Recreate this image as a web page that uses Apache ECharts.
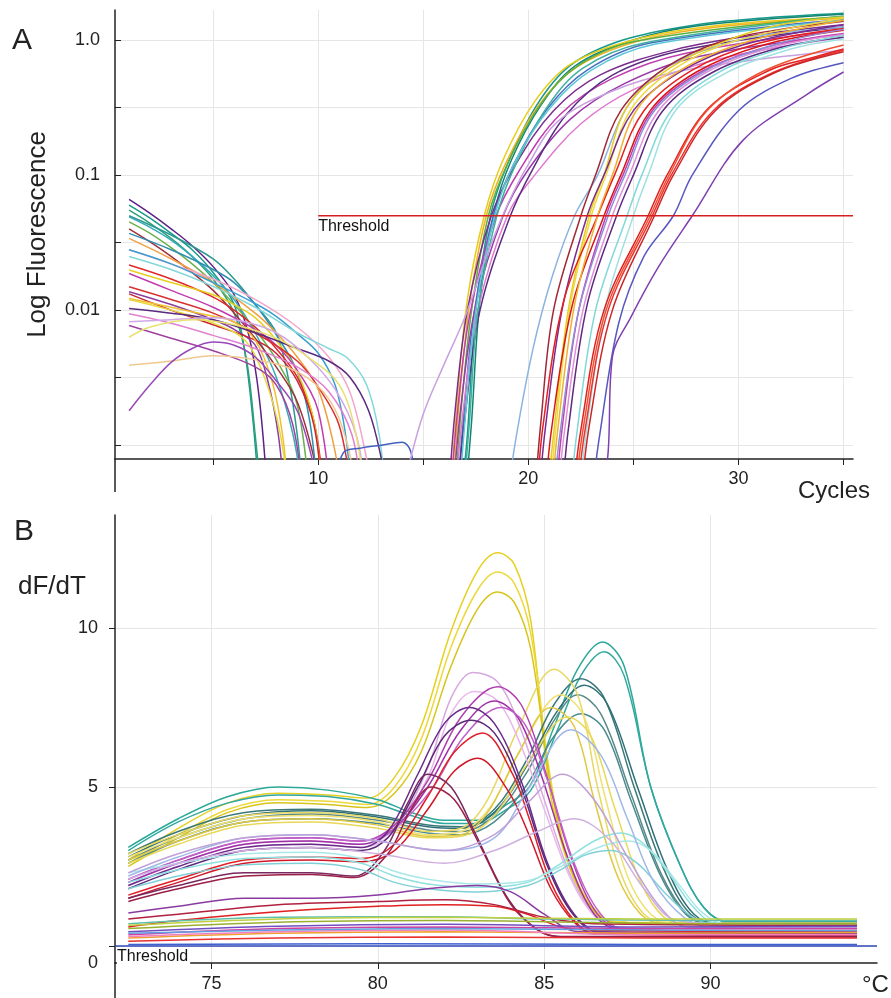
<!DOCTYPE html>
<html>
<head>
<meta charset="utf-8">
<script src="https://cdn.jsdelivr.net/npm/echarts@6/dist/echarts.min.js"></script>
<style>
html, body { margin: 0; padding: 0; background: #fff; }
#main { width: 891px; height: 998px; }
</style>
</head>
<body>
<div id="main"></div>
<script>
// ---------- Panel A : amplification (cycle, fluorescence) ----------
var cycleLabels = [10, 20, 30];
var decadeLabels = {'0': '1.0', '-1': '0.1', '-2': '0.01'};
var thresholdA = [[10, 0.05], [35.45, 0.05]];

// early baseline parts of the wells, falling off below the axis
var baselineCurves = [
  [[1,0.066],[2,0.052],[3,0.04],[4,0.03],[5,0.021],[6,0.013],[6.7,0.0065],[7.2,0.0022],[7.6,0.0004]],
  [[1,0.06],[2,0.048],[3,0.037],[4,0.028],[5,0.019],[6,0.011],[6.5,0.005],[6.9,0.0015],[7.2,0.0004]],
  [[1,0.055],[2,0.044],[3,0.034],[4,0.025],[5,0.017],[6,0.0095],[6.6,0.0042],[7.0,0.0012],[7.3,0.0004]],
  [[1,0.05],[3,0.036],[5,0.024],[6,0.017],[7,0.011],[8,0.0068],[8.6,0.003],[9.0,0.0012],[9.3,0.0004]],
  [[1,0.049],[2,0.041],[3,0.033],[4,0.025],[5,0.018],[6,0.012],[7,0.0068],[8,0.0032],[8.8,0.0012],[9.3,0.0004]],
  [[1,0.045],[2,0.037],[3,0.029],[4,0.022],[5,0.016],[6,0.011],[7,0.0072],[8,0.0043],[9,0.002],[9.6,0.0004]],
  [[1,0.04],[2,0.032],[3,0.025],[4,0.019],[5,0.014],[6,0.0095],[7,0.0062],[8,0.0038],[9,0.0021],[9.8,0.0008],[10.1,0.0004]],
  [[1,0.037],[3,0.028],[5,0.02],[6,0.016],[7,0.011],[8,0.0066],[9,0.0035],[9.6,0.0015],[10,0.0004]],
  [[1,0.034],[3,0.024],[5,0.016],[7,0.0095],[8,0.0068],[9,0.0045],[10,0.0026],[10.8,0.0009],[11.1,0.0004]],
  [[1,0.028],[3,0.022],[5,0.017],[7,0.012],[9,0.0075],[10.5,0.0045],[11.5,0.0025],[12.3,0.0008],[12.6,0.0004]],
  [[1,0.028],[3,0.022],[5,0.016],[7,0.0112],[8,0.009],[9,0.0067],[10,0.0048],[10.8,0.0028],[11.3,0.0012],[11.6,0.0004]],
  [[1,0.025],[3,0.02],[5,0.015],[7,0.0105],[9,0.0068],[10.5,0.0052],[11.4,0.0044],[12.3,0.0028],[12.9,0.0012],[13.2,0.0004]],
  [[1,0.0216],[3,0.017],[5,0.0125],[6,0.01],[7,0.0075],[8,0.0052],[9,0.0032],[9.8,0.0015],[10.3,0.0004]],
  [[1,0.0198],[3,0.016],[5,0.013],[6,0.011],[7,0.0088],[8,0.006],[9,0.0035],[9.8,0.0015],[10.2,0.0004]],
  [[1,0.0187],[3,0.014],[5,0.0105],[7,0.0072],[8,0.0055],[9,0.0036],[10,0.0018],[10.6,0.0004]],
  [[1,0.0149],[3,0.012],[5,0.0095],[7,0.0068],[9,0.0042],[10,0.0027],[11,0.0014],[11.6,0.0004]],
  [[1,0.0137],[3,0.011],[5,0.0085],[6,0.0072],[7,0.0055],[7.6,0.003],[8.1,0.0012],[8.4,0.0004]],
  [[1,0.0132],[3,0.01],[5,0.0078],[7,0.006],[8,0.0048],[9,0.003],[9.8,0.0014],[10.2,0.0004]],
  [[1,0.0122],[3,0.0105],[5,0.009],[6,0.0082],[7,0.006],[7.8,0.003],[8.3,0.0012],[8.6,0.0004]],
  [[1,0.012],[3,0.01],[5,0.008],[6.5,0.006],[7.5,0.003],[8.2,0.0012],[8.6,0.0004]],
  [[1,0.0103],[3,0.0095],[5,0.0085],[7,0.0068],[9,0.0052],[10.5,0.0042],[11.5,0.0032],[12.4,0.0018],[13.0,0.0008],[13.3,0.0004]],
  [[1,0.0094],[3,0.008],[5,0.0065],[7,0.0052],[9,0.0038],[10.5,0.0025],[11.6,0.0012],[12.1,0.0004]],
  [[1,0.0082],[3,0.0085],[5,0.0088],[6.5,0.0082],[8,0.0068],[9.5,0.0045],[10.8,0.0026],[11.8,0.0012],[12.3,0.0004]],
  [[1,0.0077],[3,0.0062],[5,0.005],[7,0.0038],[8,0.0028],[8.8,0.0014],[9.3,0.0004]],
  [[1,0.0063],[2,0.0075],[4,0.0085],[6,0.0078],[8,0.0062],[9.5,0.0045],[11,0.0028],[11.8,0.0012],[12.2,0.0004]],
  [[1,0.0039],[3,0.0042],[5,0.0046],[7,0.0043],[9,0.0035],[10.5,0.0022],[11.4,0.001],[11.8,0.0004]],
  [[1,0.0018],[2,0.0028],[3,0.0041],[4,0.0052],[5,0.0058],[6,0.0055],[7,0.0045],[8,0.003],[9,0.0018],[9.7,0.0008],[10,0.0004]],
  [[10.6,0.0004],[11.2,0.00088],[12,0.00095],[13,0.001],[14,0.00105],[14.4,0.0009],[14.8,0.0004]]
];
var baselineColors = ['#5e1f86','#17998a','#2f9f7a','#2a9a90','#35aab8','#6ab04c','#a0303a','#2f8fb0',
  '#f0a040','#f2a6cc','#3aa0d0','#82d8d8','#e02828','#e6cf22','#c03cb0','#d83030','#8a3ca0','#c82430',
  '#f0c030','#e8d840','#5a2a80','#e080d0','#d0a8e8','#a040a0','#e8e070','#f0c890','#9848b8','#4060c0'];

// exponential phase of the wells
var ampCurves = [
  [[16.8,0.0004],[17.1,0.0012],[17.5,0.01],[18.2,0.05],[19,0.12],[20.4,0.33],[22,0.65],[24.5,1.0],[28,1.3],[31,1.45],[35,1.58]],
  [[17.0,0.0004],[17.3,0.0015],[17.7,0.012],[18.4,0.055],[19.2,0.13],[20.6,0.33],[22.2,0.64],[24.8,0.98],[28,1.27],[35,1.55]],
  [[16.3,0.0004],[16.6,0.002],[17.1,0.012],[17.9,0.05],[18.8,0.13],[20.3,0.35],[22,0.66],[25,1.0],[29,1.28],[35,1.48]],
  [[16.4,0.0004],[16.7,0.002],[17.2,0.011],[18,0.05],[18.9,0.12],[20.5,0.33],[22.3,0.63],[25.2,0.98],[29,1.25],[35,1.45]],
  [[16.5,0.0004],[16.8,0.0018],[17.3,0.01],[18.1,0.05],[19,0.12],[20.5,0.32],[22.2,0.62],[25,0.97],[35,1.5]],
  [[16.6,0.0004],[16.9,0.0015],[17.4,0.009],[18.3,0.048],[19.3,0.12],[20.9,0.31],[22.8,0.6],[25.8,0.95],[35,1.42]],
  [[16.2,0.0004],[16.5,0.0017],[17.1,0.01],[18.2,0.048],[19.4,0.12],[21.2,0.3],[23.4,0.55],[27,0.85],[31,1.1],[35,1.3]],
  [[16.3,0.0004],[16.6,0.0016],[17.2,0.009],[18.4,0.047],[19.6,0.11],[21.5,0.28],[24,0.52],[27.5,0.8],[35,1.2]],
  [[16.4,0.0004],[16.8,0.002],[17.5,0.011],[18.8,0.05],[20,0.11],[22,0.26],[24.5,0.47],[28,0.75],[35,1.1]],
  [[16.5,0.0004],[16.9,0.0018],[17.6,0.01],[19.0,0.05],[20.3,0.1],[22.5,0.24],[25,0.43],[29,0.72],[35,1.05]],
  [[16.6,0.0004],[17.0,0.0017],[17.7,0.01],[19.1,0.048],[20.2,0.11],[21.8,0.28],[24,0.55],[27.5,0.85],[35,1.25]],
  [[16.9,0.0004],[17.2,0.0015],[17.6,0.01],[18.5,0.05],[19.4,0.12],[20.9,0.32],[22.6,0.62],[25.5,0.95],[35,1.5]],
  [[16.7,0.0004],[17.0,0.0016],[17.5,0.01],[18.4,0.05],[19.3,0.12],[21,0.31],[23,0.6],[26,0.93],[35,1.4]],
  [[14.2,0.0006],[15,0.0017],[16,0.004],[17,0.009],[18,0.025],[19,0.06],[20,0.12],[21.4,0.25],[24,0.42],[27,0.58],[31,0.72],[35,0.84]],
  [[19.0,0.0004],[19.4,0.0011],[20.2,0.005],[21.1,0.017],[22.2,0.05],[23.3,0.1],[24.7,0.32],[26.6,0.63],[30,1.0],[32.5,1.15],[35,1.25]],
  [[20.3,0.0004],[20.6,0.0015],[21.2,0.01],[22.5,0.05],[23.2,0.1],[24.4,0.3],[26.5,0.62],[29.2,0.98],[32,1.2],[35,1.38]],
  [[20.9,0.0004],[21.2,0.0012],[21.9,0.01],[22.9,0.05],[23.6,0.1],[24.7,0.32],[26.8,0.63],[29.5,1.0],[32,1.3],[35,1.48]],
  [[21.0,0.0004],[21.3,0.0013],[22.0,0.011],[23.0,0.05],[23.7,0.1],[24.9,0.31],[27,0.62],[29.8,0.98],[35,1.45]],
  [[20.5,0.0004],[20.8,0.0013],[21.6,0.01],[22.8,0.05],[23.6,0.1],[25,0.3],[27.2,0.58],[30.2,0.92],[35,1.3]],
  [[20.4,0.0004],[20.7,0.0014],[21.7,0.012],[23.3,0.05],[24.1,0.1],[25.5,0.3],[27.8,0.6],[31,0.95],[35,1.22]],
  [[20.8,0.0004],[21.1,0.0013],[22.1,0.011],[23.6,0.05],[24.4,0.1],[25.8,0.3],[28,0.58],[31.2,0.92],[35,1.18]],
  [[21.3,0.0004],[21.6,0.0013],[22.4,0.01],[23.7,0.05],[24.5,0.1],[25.9,0.3],[28.2,0.58],[31.5,0.9],[35,1.12]],
  [[21.4,0.0004],[21.7,0.0012],[22.6,0.01],[24.0,0.05],[24.8,0.1],[26.2,0.3],[28.5,0.58],[31.8,0.9],[35,1.1]],
  [[21.6,0.0004],[21.9,0.0013],[22.8,0.011],[24.2,0.05],[25.0,0.1],[26.4,0.3],[28.8,0.58],[32,0.88],[35,1.05]],
  [[22.0,0.0004],[22.3,0.0012],[23.2,0.01],[24.7,0.05],[25.4,0.1],[26.8,0.3],[29,0.57],[32,0.86],[35,1.08]],
  [[22.4,0.0004],[22.8,0.0014],[23.7,0.011],[25.0,0.05],[25.7,0.1],[27,0.3],[29.3,0.56],[32.5,0.86],[35,1.02]],
  [[21.1,0.0004],[21.4,0.0013],[22.2,0.011],[23.3,0.05],[24,0.1],[25.2,0.31],[27.4,0.62],[30.5,0.98],[35,1.4]],
  [[21.2,0.0004],[21.5,0.0012],[22.4,0.01],[23.8,0.05],[24.6,0.1],[26,0.3],[28.5,0.6],[32,0.95],[35,1.2]],
  [[22.1,0.0004],[22.5,0.0013],[23.6,0.01],[25.7,0.05],[26.6,0.1],[28.6,0.316],[31.5,0.6],[33.5,0.74],[35,0.86]],
  [[22.3,0.0004],[22.7,0.0013],[23.8,0.01],[25.9,0.05],[26.8,0.1],[28.8,0.3],[31.7,0.58],[35,0.84]],
  [[22.5,0.0004],[22.9,0.0014],[24.0,0.01],[26.0,0.05],[26.9,0.1],[28.9,0.3],[31.8,0.58],[35,0.82]],
  [[22.2,0.0004],[22.6,0.0013],[23.7,0.01],[25.8,0.05],[26.7,0.1],[28.5,0.3],[31.3,0.6],[35,0.92]],
  [[23.0,0.0004],[23.4,0.0012],[24.3,0.008],[25.5,0.025],[26.9,0.05],[27.8,0.1],[30,0.3],[32.5,0.52],[35,0.68]],
  [[23.5,0.0004],[23.8,0.0009],[24.0,0.0045],[24.9,0.009],[26.2,0.021],[27.8,0.05],[30.2,0.18],[33.3,0.4],[35,0.58]]
];
var ampColors = ['#17998a','#128474','#e8cc1a','#f0b020','#5ab040','#4a6fc0','#7b2d8e','#c03cb0',
  '#9a3aa8','#e07ad0','#5a2d82','#40b0a0','#5ac8d8','#c9a0e0',
  '#8ab4e0','#a02838','#e6cc20','#f0d840','#7a2a90','#e42020','#d81818','#c040b0','#e090d8','#5c2a80',
  '#80d8d8','#a0e0e0','#f0b030','#9090d8',
  '#e02020','#f03030','#c82828','#f05030','#5858c0','#8040b0'];

// ---------- Panel B : melt curves (temperature, dF/dT) ----------
var tempLabels = [75, 80, 85, 90];
var thresholdB = [[72.1, 0], [95, 0]];
var meltCurves = [
  [[72.5,2.7],[74,3.7],[75.5,4.5],[77,4.8],[78.5,4.75],[79.7,4.65],[80.5,5.3],[81.3,6.9],[82.2,9.9],[83,11.8],[83.6,12.36],[84.1,12.0],[84.6,10.2],[85.15,5.0],[85.75,2.5],[86.6,0.95],[87.5,0.75],[94.4,0.72]],
  [[72.5,2.6],[74,3.5],[75.5,4.3],[77,4.6],[78.5,4.55],[79.7,4.45],[80.5,5.0],[81.3,6.5],[82.2,9.4],[83,11.2],[83.6,11.76],[84.1,11.4],[84.6,9.8],[85.2,5.2],[85.8,2.5],[86.7,0.95],[87.6,0.72],[94.4,0.7]],
  [[72.5,2.5],[74,3.4],[75.5,4.2],[77,4.5],[78.5,4.45],[79.7,4.35],[80.5,4.8],[81.3,6.1],[82.2,8.8],[83,10.6],[83.6,11.13],[84.1,10.8],[84.6,9.3],[85.2,5.0],[85.8,2.4],[86.7,0.9],[87.6,0.7],[94.4,0.68]],
  [[72.5,3.1],[74,4.0],[75.5,4.7],[77,5.0],[78.5,4.9],[80,4.6],[81,4.2],[82,3.95],[83,3.95],[83.8,4.4],[84.55,5.0],[85.3,6.9],[86,8.7],[86.75,9.56],[87.4,8.8],[88.2,5.0],[89.1,2.5],[89.8,1.2],[90.5,0.78],[94.4,0.78]],
  [[72.5,3.0],[74,3.9],[75.5,4.5],[77,4.75],[78.5,4.7],[80,4.45],[81,4.1],[82,3.85],[83,3.85],[83.8,4.25],[84.6,4.9],[85.4,6.8],[86.1,8.5],[86.8,9.25],[87.4,8.5],[88.2,5.0],[89.1,2.5],[89.8,1.2],[90.5,0.75],[94.4,0.75]],
  [[72.5,2.9],[74,3.6],[76,4.2],[78,4.3],[80,4.1],[81.5,3.8],[82.5,3.75],[83.5,4.3],[84.5,5.9],[85.3,7.6],[86.1,8.4],[86.8,7.8],[87.7,5.0],[88.6,2.4],[89.4,1.0],[90.2,0.72],[94.4,0.72]],
  [[72.5,2.8],[74,3.5],[76,4.1],[78,4.25],[80,4.05],[81.5,3.75],[82.5,3.7],[83.5,4.2],[84.5,5.7],[85.4,7.4],[86.2,8.2],[86.9,7.6],[87.8,5.0],[88.7,2.4],[89.5,1.0],[90.3,0.7],[94.4,0.7]],
  [[72.5,2.7],[74,3.4],[76,4.0],[78,4.15],[80,3.95],[81.5,3.65],[82.5,3.6],[83.5,4.1],[84.5,5.5],[85.3,7.1],[86.0,7.9],[86.7,7.3],[87.6,4.8],[88.5,2.3],[89.3,1.0],[90.1,0.68],[94.4,0.68]],
  [[72.5,2.6],[74,3.3],[76,3.9],[78,4.0],[80,3.85],[81.5,3.55],[82.5,3.5],[83.5,3.9],[84.5,5.1],[85.3,6.6],[86.1,7.3],[86.8,6.8],[87.6,4.6],[88.5,2.2],[89.3,0.95],[90.1,0.66],[94.4,0.66]],
  [[72.5,2.9],[74,3.5],[76,4.1],[78,4.2],[80,4.0],[81.5,3.6],[82.5,3.7],[83.3,4.6],[84.2,6.8],[85.3,8.7],[86,7.9],[86.6,5.0],[87.3,2.3],[88,1.0],[88.8,0.72],[94.4,0.72]],
  [[72.5,2.8],[74,3.4],[76,4.0],[78,4.1],[80,3.9],[81.5,3.5],[82.5,3.6],[83.4,4.4],[84.4,6.4],[85.5,7.9],[86.2,7.2],[86.8,4.8],[87.5,2.2],[88.2,1.0],[89,0.7],[94.4,0.7]],
  [[72.5,2.7],[74,3.3],[76,3.9],[78,4.0],[80,3.8],[81.5,3.45],[82.5,3.5],[83.3,4.2],[84.2,6.0],[85.2,7.5],[85.9,6.9],[86.5,4.6],[87.2,2.2],[87.9,1.0],[88.6,0.7],[94.4,0.7]],
  [[72.5,2.6],[74,3.2],[76,3.8],[78,3.9],[80,3.7],[81.5,3.4],[82.5,3.45],[83.5,4.1],[84.6,5.9],[85.7,7.2],[86.4,6.6],[87.1,4.4],[87.9,2.0],[88.6,0.9],[89.3,0.7],[94.4,0.7]],
  [[72.5,2.0],[74,2.6],[76,3.2],[78,3.3],[79.5,3.2],[80.5,3.7],[81.5,5.6],[82.2,7.8],[82.85,8.6],[83.6,8.3],[84.3,6.8],[85,4.6],[85.8,2.2],[86.6,0.9],[87.5,0.55],[94.4,0.5]],
  [[72.5,1.9],[74,2.5],[76,3.1],[78,3.2],[79.5,3.1],[80.5,3.6],[81.5,5.3],[82.2,7.3],[82.9,8.0],[83.6,7.7],[84.3,6.3],[85,4.3],[85.8,2.1],[86.6,0.85],[87.5,0.5],[94.4,0.48]],
  [[72.5,2.1],[74,2.7],[76,3.3],[78,3.4],[79.5,3.3],[80.5,3.8],[81.5,5.2],[82.5,7.2],[83.6,8.15],[84.3,7.6],[85,5.6],[85.8,2.8],[86.6,1.0],[87.4,0.5],[94.4,0.45]],
  [[72.5,2.0],[74,2.6],[76,3.2],[78,3.3],[79.5,3.2],[80.5,3.7],[81.5,5.0],[82.5,6.8],[83.5,7.7],[84.2,7.2],[84.9,5.4],[85.7,2.8],[86.5,1.0],[87.3,0.5],[94.4,0.45]],
  [[72.5,2.1],[74,2.7],[76,3.3],[78,3.4],[79.5,3.3],[80.5,3.7],[81.6,4.9],[82.6,6.6],[83.7,7.5],[84.4,7.0],[85.1,5.2],[85.9,2.6],[86.7,1.0],[87.5,0.5],[94.4,0.45]],
  [[72.5,1.9],[74,2.5],[76,3.1],[78,3.2],[79.5,3.1],[80.3,3.6],[81.2,5.4],[82,7.0],[82.75,7.5],[83.5,7.0],[84.3,5.2],[85.1,2.6],[85.9,1.0],[86.7,0.45],[94.4,0.4]],
  [[72.5,1.8],[74,2.4],[76,3.0],[78,3.1],[79.5,3.0],[80.3,3.4],[81.2,5.0],[82,6.6],[82.8,7.1],[83.5,6.7],[84.3,5.0],[85.1,2.5],[85.9,0.95],[86.7,0.42],[94.4,0.4]],
  [[72.5,1.6],[74,2.1],[76,2.7],[78,2.8],[79.5,2.75],[80.5,3.2],[81.5,4.7],[82.3,6.1],[83.15,6.7],[84.05,5.4],[84.55,4.0],[85.2,2.0],[85.9,0.8],[86.5,0.4],[94.4,0.35]],
  [[72.5,1.5],[74,2.0],[76,2.6],[78,2.7],[79.5,2.65],[80.5,3.0],[81.5,4.3],[82.3,5.5],[83.0,5.9],[83.9,4.9],[84.5,3.6],[85.2,1.8],[85.9,0.75],[86.5,0.38],[94.4,0.33]],
  [[72.5,1.5],[74,1.9],[76,2.3],[78,2.3],[79.3,2.2],[80.2,3.0],[80.9,4.5],[81.5,5.4],[82.2,5.0],[82.9,3.6],[83.9,1.5],[84.8,0.5],[85.5,0.3],[94.4,0.3]],
  [[72.5,1.4],[74,1.8],[76,2.2],[78,2.25],[79.3,2.15],[80.3,2.9],[81,4.3],[81.6,5.0],[82.3,4.6],[83,3.3],[84,1.3],[84.9,0.45],[85.6,0.28],[94.4,0.28]],
  [[72.5,2.0],[74,2.4],[76,2.75],[78,2.8],[79.5,2.6],[80.5,2.2],[81.5,1.95],[83,1.85],[84.5,2.0],[85.5,2.6],[86.5,3.3],[87.3,3.55],[88,3.2],[88.8,2.2],[89.5,1.2],[90.2,0.7],[94.4,0.65]],
  [[72.5,2.3],[74,2.6],[76,2.9],[78,2.95],[79.5,2.75],[80.5,2.35],[81.5,2.1],[83,1.95],[84.5,2.05],[85.5,2.5],[86.5,3.05],[87.5,3.3],[88.2,3.0],[89,2.0],[89.7,1.1],[90.4,0.7],[94.4,0.65]],
  [[72.5,1.8],[74,2.2],[76,2.55],[78,2.6],[79.5,2.4],[80.5,2.0],[81.5,1.8],[83,1.7],[84.5,1.9],[85.5,2.4],[86.2,2.85],[87.0,3.0],[87.8,2.6],[88.6,1.7],[89.4,0.95],[90.2,0.65],[94.4,0.6]],
  [[72.5,2.2],[74,2.8],[76,3.4],[78,3.5],[80,3.3],[82,3.0],[83.5,3.4],[84.5,4.9],[85.8,6.8],[86.7,6.0],[87.5,4.0],[88.3,2.0],[89.2,0.9],[90,0.6],[94.4,0.6]],
  [[72.5,2.3],[74,2.9],[76,3.4],[78,3.5],[80,3.3],[82,3.0],[83.5,3.5],[84.5,4.5],[85.55,5.4],[86.5,4.6],[87.5,2.8],[88.5,1.2],[89.3,0.6],[94.4,0.55]],
  [[72.5,2.1],[74,2.6],[76,3.0],[78,3.1],[80,2.9],[82,2.6],[83.5,3.0],[84.8,3.6],[85.9,4.0],[87,3.3],[88,1.8],[89,0.8],[94.4,0.5]],
  [[72.5,1.04],[74,1.25],[76,1.5],[78,1.5],[80,1.6],[81.5,1.8],[83,1.9],[84,1.7],[85,1.0],[86,0.45],[94.4,0.4]],
  [[72.5,0.6],[74,0.8],[76,1.0],[78,1.15],[80,1.25],[82,1.3],[83.5,1.25],[84.5,1.0],[85.5,0.6],[86.5,0.5],[94.4,0.45]],
  [[72.5,0.85],[74,1.0],[77,1.3],[80,1.4],[82,1.45],[83.5,1.3],[85,0.9],[86.5,0.7],[94.4,0.65]],
  [[72.5,0.55],[77,0.75],[82,0.8],[86,0.75],[90,0.7],[94.4,0.7]],
  [[72.5,0.25],[77,0.4],[82,0.45],[88,0.4],[94.4,0.42]],
  [[72.5,0.05],[80,0.07],[88,0.05],[94.4,0.05]],
  [[72.5,0.35],[77,0.55],[82,0.6],[88,0.55],[94.4,0.55]],
  [[72.5,0.45],[77,0.62],[82,0.68],[88,0.6],[94.4,0.62]],
  [[72.5,0.15],[77,0.25],[82,0.28],[88,0.25],[94.4,0.25]],
  [[72.5,0.3],[77,0.45],[82,0.5],[88,0.35],[94.4,0.35]],
  [[72.5,0.7],[77,0.9],[82,0.92],[85,0.85],[90,0.8],[94.4,0.8]],
  [[72.5,0.4],[77,0.5],[82,0.55],[88,0.5],[94.4,0.48]],
  [[72.5,0.65],[77,0.85],[82,0.9],[88,0.85],[94.4,0.85]]
];
var meltColors = ['#e6d020','#ecd838','#d8c418','#2aa898','#30a8a0','#3a7878','#2f6f78','#5a8a88','#4a8a90',
  '#e8d860','#f0e070','#e0c840','#e8d858','#d8a8e0','#e8b8e8','#b040b0','#a030a8','#c060c8','#6a2a8a','#5a2a78',
  '#e02028','#d01828','#7a2860','#9a2048','#90e0e0','#a8e8e8','#80d0d8','#a0b8e8','#c0a0d8','#d0b0e0',
  '#8a3aa0','#e02020','#b02040','#9ab030','#f0a030','#4060d0','#d040a0','#7050c0','#e83030','#f080c0',
  '#60c0b0','#60a0e0','#c0d040'];

var FONT = 'Liberation Sans, Arial, Helvetica, sans-serif';
var chart = echarts.init(document.getElementById('main'));

var series = [];
function addCurves(list, colors, axis) {
  list.forEach(function (d, i) {
    series.push({type: 'line', xAxisIndex: axis, yAxisIndex: axis, data: d, smooth: 0.35,
      showSymbol: false, silent: true, lineStyle: {width: 1.5, color: colors[i]}});
  });
}
addCurves(baselineCurves, baselineColors, 0);
addCurves(ampCurves, ampColors, 0);
addCurves(meltCurves, meltColors, 1);

series.push({type: 'line', xAxisIndex: 0, yAxisIndex: 0, z: 5, silent: true,
  symbol: 'circle', symbolSize: 0, lineStyle: {width: 1.3, color: '#d42020'},
  data: [{value: thresholdA[0], label: {show: true, formatter: 'Threshold', position: [0, 3],
    fontFamily: FONT, fontSize: 16, color: '#111'}}, thresholdA[1]]});
series.push({type: 'line', xAxisIndex: 1, yAxisIndex: 1, z: 5, silent: true,
  symbol: 'circle', symbolSize: 0, lineStyle: {width: 1.5, color: '#3048b8'},
  data: [{value: thresholdB[0], label: {show: true, formatter: 'Threshold', position: [2, 3],
    fontFamily: FONT, fontSize: 16, color: '#111', backgroundColor: '#fff', padding: [0, 2, 3, 0]}}, thresholdB[1]]});

var axisLine = {show: true, onZero: false, lineStyle: {color: '#222', width: 1.5}};
var grid = {show: true, lineStyle: {color: '#e6e6e6', width: 1}, showMinLine: false, showMaxLine: false};

var option = {
  animation: false,
  backgroundColor: '#fff',
  grid: [
    {left: 115, right: 38, top: 10, height: 449},
    {left: 115, right: 14, top: 515, height: 448}
  ],
  xAxis: [
    {type: 'value', gridIndex: 0, min: 0.33, max: 35.45, splitNumber: 7,
     axisLine: axisLine, axisTick: {show: true, length: 6, lineStyle: {color: '#222'}},
     splitLine: grid,
     axisLabel: {fontFamily: FONT, fontSize: 18, color: '#222', margin: 11,
       showMinLabel: false, showMaxLabel: false,
       formatter: function (v) { return cycleLabels.indexOf(v) >= 0 ? String(v) : ''; }},
     name: 'Cycles', nameLocation: 'end', nameGap: 17,
     nameTextStyle: {fontFamily: FONT, fontSize: 24, color: '#222', align: 'right', verticalAlign: 'top', padding: [20, 0, 0, 0]}},
    {type: 'value', gridIndex: 1, min: 72.1, max: 95, splitNumber: 5,
     axisLine: axisLine, axisTick: {show: true, length: 6, lineStyle: {color: '#222'}},
     splitLine: grid,
     axisLabel: {fontFamily: FONT, fontSize: 18, color: '#222', margin: 12,
       showMinLabel: false, showMaxLabel: false,
       formatter: function (v) { return tempLabels.indexOf(v) >= 0 ? String(v) : ''; }},
     name: '°C', nameLocation: 'end', nameGap: -15,
     nameTextStyle: {fontFamily: FONT, fontSize: 24, color: '#222', align: 'left', verticalAlign: 'top', padding: [10, 0, 0, 0]}}
  ],
  yAxis: [
    {type: 'log', gridIndex: 0, logBase: Math.sqrt(10), min: 0.00079, max: 1.67,
     axisLine: axisLine, axisTick: {show: true, inside: true, length: 6, lineStyle: {color: '#222'}},
     splitLine: grid, minorSplitLine: {show: false},
     axisLabel: {fontFamily: FONT, fontSize: 18, color: '#222', margin: 15,
       showMinLabel: false, showMaxLabel: false,
       formatter: function (v) {
         var l = Math.log(v) / Math.LN10, r = Math.round(l);
         return (Math.abs(l - r) < 1e-6 && decadeLabels[String(r)]) ? decadeLabels[String(r)] : '';
       }},
     name: 'Log Fluorescence', nameLocation: 'middle', nameGap: 64, nameRotate: 90,
     nameTextStyle: {fontFamily: FONT, fontSize: 26, color: '#222', padding: [0, 0, 0, 0]}},
    {type: 'value', gridIndex: 1, min: -0.535, max: 13.55, splitNumber: 3,
     axisLine: axisLine, axisTick: {show: true, length: 6, lineStyle: {color: '#222'}},
     splitLine: grid,
     axisLabel: {fontFamily: FONT, fontSize: 18, color: '#222', margin: 17,
       showMinLabel: false, showMaxLabel: false,
       formatter: function (v) { return v === 0 ? '{z|0}' : String(v); },
       rich: {z: {fontFamily: FONT, fontSize: 18, color: '#222', padding: [34, 0, 0, 0]}}}}
  ],
  graphic: [
    {type: 'text', left: 12, top: 26, style: {text: 'A', font: '30px ' + FONT, fill: '#222'}},
    {type: 'text', left: 14, top: 517, style: {text: 'B', font: '30px ' + FONT, fill: '#222'}},
    {type: 'text', left: 18, top: 574, style: {text: 'dF/dT', font: '26px ' + FONT, fill: '#222'}},
    {type: 'line', shape: {x1: 115, y1: 459, x2: 115, y2: 492}, style: {stroke: '#222', lineWidth: 1.5}},
    {type: 'line', shape: {x1: 115, y1: 963, x2: 115, y2: 998}, style: {stroke: '#222', lineWidth: 1.5}}
  ],
  series: series
};
chart.setOption(option);
window.addEventListener('resize', function () { chart.resize(); });
</script>
</body>
</html>
